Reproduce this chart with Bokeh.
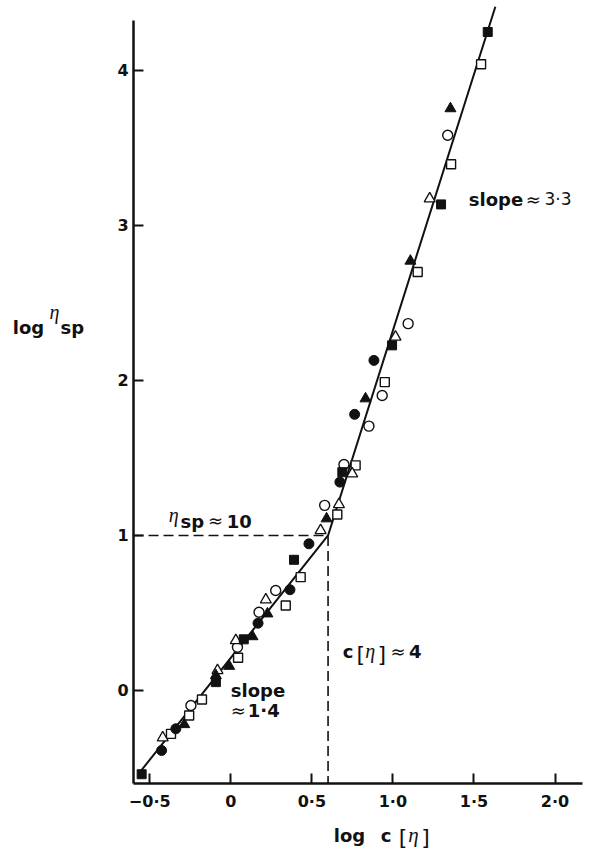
from bokeh.plotting import figure
from bokeh.models import Label, FixedTicker, Range1d
from bokeh.embed import file_html
from bokeh.resources import INLINE

INK = "#111111"

# Reduced concentration, log c[eta], vs. log specific viscosity, by symbol type
filled_square_x = [-0.55, -0.092, 0.080, 0.390, 0.688, 0.995, 1.297, 1.585]
filled_square_y = [-0.54, 0.054, 0.330, 0.843, 1.408, 2.226, 3.135, 4.247]

open_square_x = [-0.369, -0.257, -0.178, 0.045, 0.339, 0.431, 0.657, 0.770, 0.950, 1.153, 1.359, 1.544]
open_square_y = [-0.280, -0.161, -0.058, 0.211, 0.548, 0.731, 1.135, 1.452, 1.989, 2.699, 3.394, 4.039]

filled_circle_x = [-0.427, -0.339, 0.168, 0.365, 0.482, 0.673, 0.764, 0.883]
filled_circle_y = [-0.387, -0.247, 0.434, 0.650, 0.946, 1.344, 1.781, 2.129]

open_circle_x = [-0.246, 0.041, 0.174, 0.277, 0.579, 0.698, 0.852, 0.934, 1.094, 1.338]
open_circle_y = [-0.097, 0.279, 0.505, 0.645, 1.194, 1.458, 1.705, 1.903, 2.366, 3.581]

filled_triangle_x = [-0.287, -0.092, -0.010, 0.134, 0.226, 0.591, 0.831, 1.108, 1.355]
filled_triangle_y = [-0.219, 0.097, 0.157, 0.348, 0.495, 1.108, 1.882, 2.770, 3.753]

open_triangle_x = [-0.420, -0.082, 0.031, 0.216, 0.554, 0.667, 0.749, 1.016, 1.227]
open_triangle_y = [-0.305, 0.129, 0.323, 0.585, 1.032, 1.200, 1.398, 2.280, 3.172]

# Two-slope fit: dilute branch, knee at c[eta] ~ 4 (log 0.6), concentrated branch
fit_x = [-0.567, 0.6, 1.632]
fit_y = [-0.535, 1.0, 4.41]

# Guide lines marking the knee
knee_x = 0.6
knee_y = 1.0

x_ticks = [-0.5, 0, 0.5, 1.0, 1.5, 2.0]
x_tick_labels = ["\u22120\u00b75", "0", "0\u00b75", "1\u00b70", "1\u00b75", "2\u00b70"]
y_ticks = [0, 1, 2, 3, 4]
y_tick_labels = ["0", "1", "2", "3", "4"]

# where the two axes sit and how far their lines run
AX_X0, AX_X1 = -0.6, 2.17
AX_Y0, AX_Y1 = -0.6, 4.32

# the frame fills the whole canvas so the titles can sit beside the axes
p = figure(
    width=589, height=852,
    x_range=Range1d(-1.4207, 2.2128), y_range=Range1d(-1.0448, 4.45),
    output_backend="svg", toolbar_location=None,
    min_border_left=0, min_border_right=0,
    min_border_top=0, min_border_bottom=0,
)
p.background_fill_color = "white"
p.border_fill_color = "white"
p.outline_line_color = None
p.grid.visible = False

p.xaxis.ticker = FixedTicker(ticks=x_ticks)
p.xaxis.major_label_overrides = {t: s for t, s in zip(x_ticks, x_tick_labels)}
p.xaxis.bounds = (AX_X0, AX_X1)
p.xaxis.fixed_location = AX_Y0
p.yaxis.ticker = FixedTicker(ticks=y_ticks)
p.yaxis.major_label_overrides = {t: s for t, s in zip(y_ticks, y_tick_labels)}
p.yaxis.bounds = (AX_Y0, AX_Y1)
p.yaxis.fixed_location = AX_X0

for ax in (p.xaxis, p.yaxis):
    ax.axis_line_width = 2.5
    ax.axis_line_color = INK
    ax.major_tick_in = 10
    ax.major_tick_out = 0
    ax.minor_tick_in = 0
    ax.minor_tick_out = 0
    ax.major_tick_line_width = 2
    ax.major_tick_line_color = INK
    ax.major_label_text_font = "DejaVu Sans"
    ax.major_label_text_font_style = "bold"
    ax.major_label_text_font_size = "16px"
    ax.major_label_text_color = INK
p.xaxis.major_label_standoff = 8
p.yaxis.major_label_standoff = 5

# dashed guides to the knee
p.line([AX_X0, knee_x, knee_x], [knee_y, knee_y, AX_Y0], line_color=INK,
       line_width=1.6, line_dash="10 5")

# fitted line
p.line(fit_x, fit_y, line_color=INK, line_width=2)

# data points
p.scatter(open_square_x, open_square_y, marker="square", size=9,
          fill_color="white", line_color=INK, line_width=1.4)
p.scatter(open_circle_x, open_circle_y, marker="circle", size=10,
          fill_color="white", line_color=INK, line_width=1.4)
p.scatter(open_triangle_x, open_triangle_y, marker="triangle", size=11,
          fill_color="white", line_color=INK, line_width=1.3)
p.scatter(filled_square_x, filled_square_y, marker="square", size=9,
          fill_color=INK, line_color=INK)
p.scatter(filled_circle_x, filled_circle_y, marker="circle", size=10,
          fill_color=INK, line_color=INK)
p.scatter(filled_triangle_x, filled_triangle_y, marker="triangle", size=11,
          fill_color=INK, line_color=INK)


def put(text, x, y, size="18px", font="DejaVu Sans", style="bold"):
    p.add_layout(Label(x=x, y=y, text=text, text_font=font, text_font_size=size,
                       text_font_style=style, text_color=INK,
                       text_align="left", text_baseline="alphabetic"))


SERIF = "Liberation Serif"

# y-axis title: log eta_sp
put("log", -1.345, 2.342)
put("\u03b7", -1.118, 2.440, size="20px", font=SERIF, style="italic")
put("sp", -1.050, 2.342)

# x-axis title: log c[eta]
put("log", 0.635, -0.935)
put("c", 0.925, -0.935)
put("[", 1.036, -0.950, size="22px", font="DejaVu Sans", style="normal")
put("\u03b7", 1.095, -0.935, size="21px", font=SERIF, style="italic")
put("]", 1.175, -0.950, size="22px", font="DejaVu Sans", style="normal")

# eta_sp ~ 10 at the knee
put("\u03b7", -0.383, 1.129, size="20px", font=SERIF, style="italic")
put("sp", -0.310, 1.090)
put("\u2248", -0.140, 1.095, style="normal")
put("10", -0.025, 1.090)

# c[eta] ~ 4 at the knee
put("c", 0.691, 0.252)
put("[", 0.775, 0.232, size="22px", font="DejaVu Sans", style="normal")
put("\u03b7", 0.830, 0.252, size="20px", font=SERIF, style="italic")
put("]", 0.905, 0.232, size="22px", font="DejaVu Sans", style="normal")
put("\u2248", 0.985, 0.252, style="normal")
put("4", 1.100, 0.252)

# slope annotations
put("slope", 0.0, 0.0)
put("\u2248", 0.0, -0.129, style="normal")
put("1\u00b74", 0.105, -0.129)

put("slope", 1.468, 3.168)
put("\u2248", 1.820, 3.168, style="normal")
put("3\u00b73", 1.935, 3.168, size="17px", style="normal")

open("out.html", "w").write(file_html(p, INLINE))
